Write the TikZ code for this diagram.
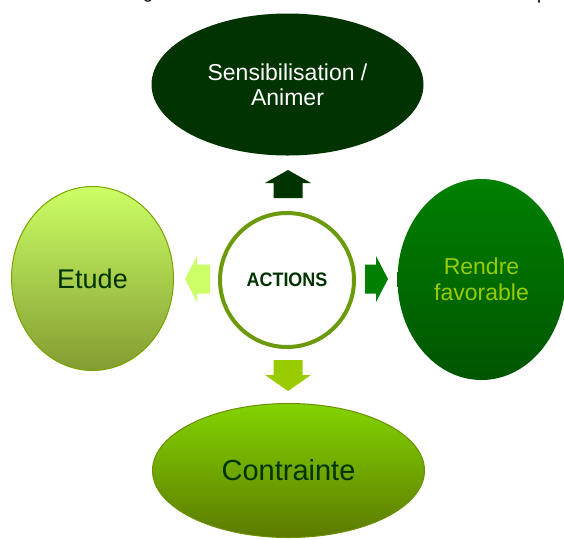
\documentclass[tikz,border=0pt]{standalone}
\usepackage{fontspec}
\setmainfont{Liberation Sans}
\usetikzlibrary{shapes.geometric}
\definecolor{dkgreen}{HTML}{003300}
\definecolor{ring}{HTML}{6B9A0A}
\definecolor{lightg}{HTML}{CCFF66}
\definecolor{midg}{HTML}{008000}
\definecolor{yelg}{HTML}{99CC00}
\newcommand{\blockarr}[5]{% colour, centre, angle, half length, head length
  \fill[#1, shift={(#2)}, rotate=#3] (#4,0) -- ({#4-#5},23) -- ({#4-#5},14.5) -- (-#4,14.5)
    -- (-#4,-14.5) -- ({#4-#5},-14.5) -- ({#4-#5},-23) -- cycle;}
\tikzset{
  oval/.style={ellipse, inner sep=0pt, align=center},
  frag/.style={anchor=base west, inner sep=0pt, font=\fontsize{18}{20}\selectfont}
}
\begin{document}
\begin{tikzpicture}[x=1pt,y=-1pt]
\useasboundingbox (0,0) rectangle (564,539);
% clipped text fragments at the top edge
\node[frag] (f1) at (143,-1.5) {g};
\node[frag] (f2) at (220,-3.5) {,};
\node[frag] (f3) at (537,-1) {p};
% outer ellipses
\node[oval, fill=dkgreen, minimum width=272pt, minimum height=142pt,
  text=white, font=\fontsize{23}{25}\selectfont] (top) at (287.5,84.5) {Sensibilisation /\\Animer};
\node[oval, top color=lightg, bottom color=black!35!lightg!75!olive, draw=black!20!yelg, line width=1pt,
  minimum width=162pt, minimum height=184pt, text=dkgreen, font=\fontsize{27}{30}\selectfont] (left) at (92.5,278.5) {Etude};
\node[oval, top color=midg!100!white!100, bottom color=black!33!midg,
  minimum width=168pt, minimum height=201pt, text=yelg, font=\fontsize{23}{26}\selectfont] (right) at (481.5,279.5) {Rendre\\favorable};
\node[oval, top color=yelg!85!green!100!white, bottom color=black!40!yelg, draw=black!30!yelg, line width=1pt,
  minimum width=272pt, minimum height=134pt, text=dkgreen, font=\fontsize{29}{32}\selectfont] (bottom) at (288.5,470.5) {Contrainte};
% centre
\node[circle, draw=ring, line width=4pt, fill=white, minimum size=134pt, inner sep=0pt] (center) at (287,280) {};
\node[inner sep=0pt, text=dkgreen, font=\bfseries\fontsize{19.5}{22}\selectfont] (act) at (center) {\scalebox{0.92}[1]{ACTIONS}};
% block arrows
\coordinate (aup) at (288,184);
\coordinate (aright) at (376.5,279);
\coordinate (aleft) at (197.5,279);
\coordinate (adown) at (288,375.5);
\blockarr{dkgreen}{aup}{90}{14}{13}
\blockarr{midg}{aright}{0}{11.5}{12}
\blockarr{lightg}{aleft}{180}{12.5}{12}
\blockarr{yelg}{adown}{-90}{15.5}{16}
\end{tikzpicture}
\end{document}
